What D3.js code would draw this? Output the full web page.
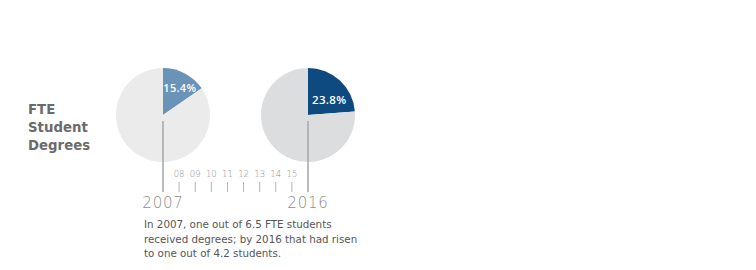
<!DOCTYPE html>
<html>
<head>
<meta charset="utf-8">
<script src="https://cdn.jsdelivr.net/npm/d3@7"></script>
<style>
  body { margin: 0; background: #fff; }
  svg text { font-family: "DejaVu Sans", sans-serif; }
  svg text.pct { font-family: "Open Sans", sans-serif; }
</style>
</head>
<body>
<svg width="756" height="270"></svg>
<script>
// values
const years = [2007, 2016];
const shares = [15.4, 23.8];
const sliceColors = ["#6b93b8", "#0e4a80"];
const restColors = ["#ebebeb", "#dcdddf"];
const midYears = ["08", "09", "10", "11", "12", "13", "14", "15"];
const titleLines = ["FTE", "Student", "Degrees"];
const noteLines = [
  "In 2007, one out of 6.5 FTE students",
  "received degrees; by 2016 that had risen",
  "to one out of 4.2 students."
];

const svg = d3.select("svg");

// timeline scale, 2007 -> 2016
const x = d3.scaleLinear().domain([2007, 2016]).range([163, 308]);
const cy = 115, r = 47;

// title
svg.append("g").selectAll("text")
  .data(titleLines)
  .enter().append("text")
  .attr("x", 28)
  .attr("y", (d, i) => 114 + i * 18)
  .attr("font-size", 13.3)
  .attr("font-weight", 700)
  .attr("fill", "#6b6b6b")
  .text(d => d);

const pie = d3.pie().sort(null).value(d => d);
const arc = d3.arc().innerRadius(0).outerRadius(r);

years.forEach((yr, i) => {
  const g = svg.append("g").attr("transform", `translate(${x(yr)},${cy})`);
  const arcs = pie([shares[i], 100 - shares[i]]);
  g.selectAll("path")
    .data(arcs)
    .enter().append("path")
    .attr("d", arc)
    .attr("fill", (d, j) => j === 0 ? sliceColors[i] : restColors[i]);

  // label inside the slice, pushed toward the slice's open side
  const a = arcs[0].endAngle * (i === 0 ? 0.57 : 0.64);
  const lr = i === 0 ? 32 : 26;
  g.append("text")
    .attr("class", "pct")
    .attr("x", Math.sin(a) * lr)
    .attr("y", -Math.cos(a) * lr + 4)
    .attr("text-anchor", "middle")
    .attr("font-size", i === 0 ? 11 : 11.5)
    .attr("font-weight", 600)
    .attr("letter-spacing", 0.3)
    .attr("fill", "#fff")
    .text(shares[i] + "%");

  // stem from the pie down to the year
  svg.append("line")
    .attr("x1", x(yr)).attr("x2", x(yr))
    .attr("y1", cy + 6).attr("y2", 192)
    .attr("stroke", "#a6a6a6")
    .attr("stroke-width", 1.5);

  svg.append("text")
    .attr("x", x(yr))
    .attr("y", 208)
    .attr("text-anchor", "middle")
    .attr("font-size", 15)
    .attr("font-weight", 200)
    .attr("letter-spacing", 0.8)
    .attr("fill", "#8c8c8c")
    .text(yr);
});

// small year ticks between
const mid = svg.append("g");
mid.selectAll("line")
  .data(midYears)
  .enter().append("line")
  .attr("x1", d => x(2000 + +d)).attr("x2", d => x(2000 + +d))
  .attr("y1", 182).attr("y2", 192)
  .attr("stroke", "#b3b3b3")
  .attr("stroke-width", 1);
mid.selectAll("text")
  .data(midYears)
  .enter().append("text")
  .attr("x", d => x(2000 + +d))
  .attr("y", 177)
  .attr("text-anchor", "middle")
  .attr("font-size", 8.5)
  .attr("font-weight", 200)
  .attr("fill", "#8c8c8c")
  .text(d => d);

// note
svg.append("g").selectAll("text")
  .data(noteLines)
  .enter().append("text")
  .attr("x", 144)
  .attr("y", (d, i) => 228 + i * 14.5)
  .attr("font-size", 10.3)
  .attr("fill", "#555")
  .text(d => d);
</script>
</body>
</html>
